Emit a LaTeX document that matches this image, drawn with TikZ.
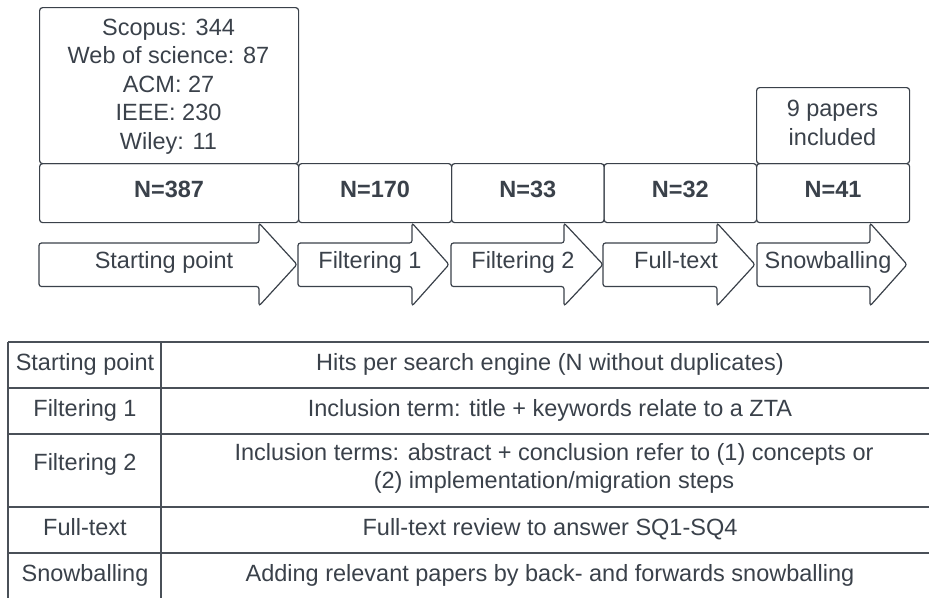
\documentclass[tikz,border=0pt]{standalone}
\usepackage{fontspec}
\setmainfont{Liberation Sans}
\definecolor{ink}{HTML}{3A414A}
\definecolor{rule}{HTML}{4A5058}
% strut that fixes the height of a text line (22.5pt above, 6pt below the baseline)
\newcommand\linestrut{\rule[-6pt]{0pt}{28.5pt}}
\begin{document}
\begin{tikzpicture}[x=1pt,y=-1pt,
  font=\fontsize{23.5}{28.5}\selectfont,
  box/.style={draw=ink, line width=1.2pt, rounded corners=3pt,
    inner sep=0pt, anchor=north west},
  count/.style={box, minimum height=59pt},
  lbl/.style={text=ink, inner sep=0pt, anchor=base, align=center},
  lines/.style={text=ink, inner sep=0pt, anchor=north, align=center},
  stage/.style={draw=ink, line width=1.2pt, rounded corners=2.5pt},
  grid/.style={draw=rule, line width=1.4pt}]
\useasboundingbox (0,0) rectangle (929,598);

% hit counts per search engine and snowballing result
\node[box, minimum width=259pt, minimum height=156pt] (hits) at (39,7) {};
\node[lines] (hitstext) at (168.5,12.5)
  {\linestrut Scopus: 344\\Web of science: 87\\ACM: 27\\IEEE: 230\\Wiley: 11};
\node[box, minimum width=153pt, minimum height=76pt] (extra) at (756,87) {};
\node[lines] (extratext) at (832.5,94) {\linestrut 9 papers\\included};

% paper counts per stage
\node[count, minimum width=259pt] (n1) at (39,163) {};
\node[count, minimum width=153pt] (n2) at (298,163) {};
\node[count, minimum width=152.5pt] (n3) at (451,163) {};
\node[count, minimum width=152.5pt] (n4) at (603.5,163) {};
\node[count, minimum width=153pt] (n5) at (756,163) {};
\foreach \nd/\val in {n1/387, n2/170, n3/33, n4/32, n5/41}
  \node[lbl, font=\fontsize{23.5}{28.5}\selectfont\bfseries] (\nd lbl)
    at (\nd.center |- 0,197.5) {N=\val};

% stage arrows: #1 tail x, #2 head base x, #3 tip x
\newcommand\stagearrow[3]{%
  \draw[stage] (#1,243) -- (#2,243) -- (#2,223) -- (#3,264.5) -- (#2,306)
    -- (#2,286.5) -- (#1,286.5) -- cycle;}
\stagearrow{39}{259}{297}
\stagearrow{298}{412}{449}
\stagearrow{451}{564}{603}
\stagearrow{603}{717}{755}
\stagearrow{757}{870}{907}
\node[lbl] (s1) at (164,268.5) {Starting point};
\node[lbl] (s2) at (370,268.5) {Filtering 1};
\node[lbl] (s3) at (523,268.5) {Filtering 2};
\node[lbl] (s4) at (676,268.5) {Full-text};
\node[lbl] (s5) at (828,268.5) {Snowballing};

% description table
\foreach \yy in {342,388,434,507,553}
  \draw[grid] (8,\yy) -- (929,\yy);
\draw[grid] (8,342) -- (8,598);
\draw[grid] (161,342) -- (161,598);

\node[lbl] (t1) at (85,370) {Starting point};
\node[lbl] (t2) at (85,416) {Filtering 1};
\node[lbl] (t3) at (85,470) {Filtering 2};
\node[lbl] (t4) at (85,535) {Full-text};
\node[lbl] (t5) at (85,581) {Snowballing};

\node[lbl] (d1) at (550,370) {Hits per search engine (N without duplicates)};
\node[lbl] (d2) at (550,416) {Inclusion term: title + keywords relate to a ZTA};
\node[lines] (d3) at (554,437.5) {\linestrut Inclusion terms: abstract + conclusion refer to (1) concepts or\\(2) implementation/migration steps};
\node[lbl] (d4) at (550,535) {Full-text review to answer SQ1-SQ4};
\node[lbl] (d5) at (550,581) {Adding relevant papers by back- and forwards snowballing};
\end{tikzpicture}
\end{document}
